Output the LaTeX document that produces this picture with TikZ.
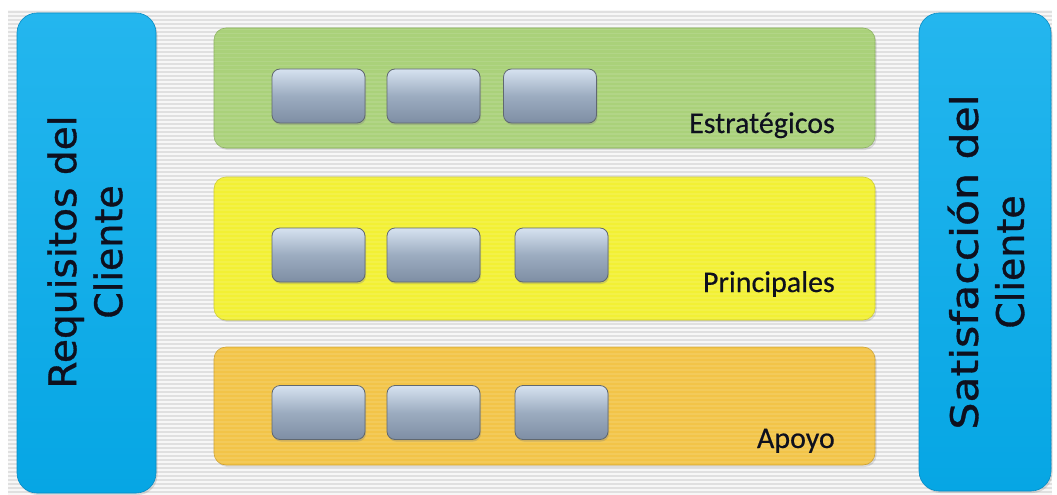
\documentclass[tikz,border=0pt]{standalone}
\usepackage{fontspec}
\usepackage{graphicx}
\newfontfamily\sideFont[FakeBold=0.9]{DejaVu Sans}
\newfontfamily\labelFont[FakeBold=0.4]{Carlito}
\usetikzlibrary{shadows}

\definecolor{stripeBg}{RGB}{247,247,247}
\definecolor{stripeLine}{RGB}{224,224,224}
\definecolor{cyanTop}{RGB}{36,182,238}
\definecolor{cyanBot}{RGB}{6,166,228}
\definecolor{cyanEdge}{RGB}{8,140,196}
\definecolor{greenFill}{RGB}{170,209,122}
\definecolor{greenEdge}{RGB}{140,178,96}
\definecolor{yellowFill}{RGB}{242,240,52}
\definecolor{yellowEdge}{RGB}{206,204,40}
\definecolor{orangeFill}{RGB}{242,196,72}
\definecolor{orangeEdge}{RGB}{206,162,50}
\definecolor{tileTop}{RGB}{214,226,240}
\definecolor{tileMid}{RGB}{156,172,192}
\definecolor{tileBot}{RGB}{126,142,164}
\definecolor{tileEdge}{RGB}{96,104,112}
\definecolor{inkDark}{RGB}{14,16,30}

\tikzset{
  sidebox/.style={rectangle, rounded corners=20pt, draw=cyanEdge, line width=0.6pt,
    top color=cyanTop, bottom color=cyanBot,
    drop shadow={opacity=0.25, shadow xshift=1.5pt, shadow yshift=-2pt}},
  rowbox/.style={rectangle, rounded corners=12pt, line width=0.6pt,
    minimum width=661pt, inner sep=0pt,
    drop shadow={opacity=0.25, shadow xshift=1.5pt, shadow yshift=-2pt}},
  tile/.style={rectangle, rounded corners=8pt, draw=tileEdge, line width=0.8pt,
    minimum width=93pt, minimum height=54pt, inner sep=0pt,
    top color=tileTop, bottom color=tileBot, middle color=tileMid,
    drop shadow={opacity=0.3, shadow xshift=1pt, shadow yshift=-2pt}},
  sidetext/.style={rotate=90, align=center, text=inkDark,
    font=\sideFont\fontsize{38}{46}\selectfont},
  rowlabel/.style={anchor=base east, inner sep=0pt, text=inkDark,
    font=\labelFont\fontsize{30}{34}\selectfont}
}

\begin{document}
\begin{tikzpicture}[x=1pt, y=-1pt]
\useasboundingbox (0,0) rectangle (1057,495);
\fill[white] (0,0) rectangle (1057,495);

% striped backdrop
\fill[stripeBg] (8,10) rectangle (1052,495);
\foreach \k in {0,...,121}
  \fill[stripeLine] (8,{11+4*\k}) rectangle (1052,{12.6+4*\k});

% process bands
\node[rowbox, draw=greenEdge, fill=greenFill, minimum height=120pt] (est) at (544.5,88) {};
\node[rowbox, draw=yellowEdge, fill=yellowFill, minimum height=143pt] (pri) at (544.5,248.5) {};
\node[rowbox, draw=orangeEdge, fill=orangeFill, minimum height=118pt] (apo) at (544.5,406) {};

% faint ribbing over the bands
\begin{scope}
  \clip (214,28) rectangle (876,466);
  \foreach \k in {0,...,110}
    \fill[white, opacity=0.10] (214,{29+4*\k}) rectangle (876,{30.5+4*\k});
\end{scope}

% customer columns
\node[sidebox, minimum width=139pt, minimum height=480pt] (req) at (86.5,253) {};
\node[sidebox, minimum width=132pt, minimum height=478pt] (sat) at (985,252) {};

\node[sidetext] (reqtext) at (85,252) {\scalebox{1.03}[1]{Requisitos del}\\Cliente};
\node[sidetext] (sattext) at (986,262) {\scalebox{1.12}[1]{Satisfacción del}\\Cliente};

% process tiles
\node[tile] (e1) at (318.5,96) {};
\node[tile] (e2) at (433.5,96) {};
\node[tile] (e3) at (550,96) {};

\node[tile] (p1) at (318.5,255) {};
\node[tile] (p2) at (433.5,255) {};
\node[tile] (p3) at (561.5,255) {};

\node[tile] (a1) at (318.5,412.5) {};
\node[tile] (a2) at (433.5,412.5) {};
\node[tile] (a3) at (561.5,412.5) {};

% band labels
\node[rowlabel] (estlabel) at (835,133) {Estratégicos};
\node[rowlabel] (prilabel) at (835,292) {Principales};
\node[rowlabel] (apolabel) at (835,448) {Apoyo};
\end{tikzpicture}
\end{document}
